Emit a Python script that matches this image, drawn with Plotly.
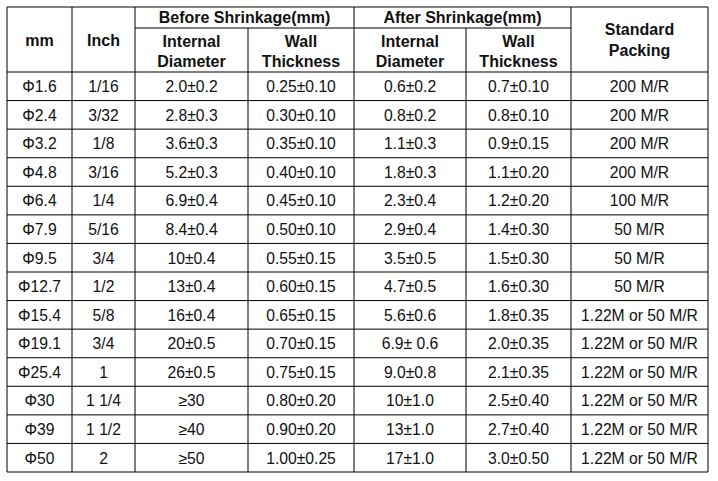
import plotly.graph_objects as go

# ---- data ----
mm = ["Φ1.6", "Φ2.4", "Φ3.2", "Φ4.8", "Φ6.4", "Φ7.9", "Φ9.5", "Φ12.7",
      "Φ15.4", "Φ19.1", "Φ25.4", "Φ30", "Φ39", "Φ50"]
inch = ["1/16", "3/32", "1/8", "3/16", "1/4", "5/16", "3/4", "1/2",
        "5/8", "3/4", "1", "1 1/4", "1 1/2", "2"]
before_id = ["2.0±0.2", "2.8±0.3", "3.6±0.3", "5.2±0.3", "6.9±0.4", "8.4±0.4", "10±0.4",
             "13±0.4", "16±0.4", "20±0.5", "26±0.5", "≥30", "≥40", "≥50"]
before_wall = ["0.25±0.10", "0.30±0.10", "0.35±0.10", "0.40±0.10", "0.45±0.10", "0.50±0.10",
               "0.55±0.15", "0.60±0.15", "0.65±0.15", "0.70±0.15", "0.75±0.15", "0.80±0.20",
               "0.90±0.20", "1.00±0.25"]
after_id = ["0.6±0.2", "0.8±0.2", "1.1±0.3", "1.8±0.3", "2.3±0.4", "2.9±0.4", "3.5±0.5",
            "4.7±0.5", "5.6±0.6", "6.9± 0.6", "9.0±0.8", "10±1.0", "13±1.0", "17±1.0"]
after_wall = ["0.7±0.10", "0.8±0.10", "0.9±0.15", "1.1±0.20", "1.2±0.20", "1.4±0.30",
              "1.5±0.30", "1.6±0.30", "1.8±0.35", "2.0±0.35", "2.1±0.35", "2.5±0.40",
              "2.7±0.40", "3.0±0.50"]
packing = ["200 M/R", "200 M/R", "200 M/R", "200 M/R", "100 M/R", "50 M/R", "50 M/R",
           "50 M/R", "1.22M or 50 M/R", "1.22M or 50 M/R", "1.22M or 50 M/R",
           "1.22M or 50 M/R", "1.22M or 50 M/R", "1.22M or 50 M/R"]

group_headers = ["Before Shrinkage(mm)", "After Shrinkage(mm)"]
sub_headers = ["Internal<br>Diameter", "Wall<br>Thickness", "Internal<br>Diameter", "Wall<br>Thickness"]
span_headers = ["mm", "Inch", "Standard<br>Packing"]

columns = [mm, inch, before_id, before_wall, after_id, after_wall, packing]

# ---- layout geometry (pixel space) ----
W, H = 718, 481
col_edges = [7, 72, 135, 248, 354, 466, 571, 708]
top, mid, head_bottom, bottom = 7, 28, 72, 472
n_rows = len(mm)
row_h = (bottom - head_bottom) / n_rows
row_edges = [head_bottom + i * row_h for i in range(n_rows + 1)]
centers = [(col_edges[i] + col_edges[i + 1]) / 2 for i in range(7)]
row_centers = [(row_edges[i] + row_edges[i + 1]) / 2 for i in range(n_rows)]

FONT = "Liberation Sans, Arial, sans-serif"
TXT = "#111111"
DATA_SIZE = 15.7
HEAD_SIZE = 16

fig = go.Figure()

# data cells
for ci, col in enumerate(columns):
    fig.add_trace(go.Scatter(
        x=[centers[ci]] * n_rows, y=[r + 2 for r in row_centers], mode="text", text=col,
        textposition="middle center",
        textfont=dict(family=FONT, size=DATA_SIZE, color=TXT),
        hoverinfo="skip", showlegend=False))

# spanning headers
span_x = [centers[0], centers[1], centers[6]]
fig.add_trace(go.Scatter(
    x=span_x, y=[(top + head_bottom) / 2 + 2] * 3, mode="text",
    text=[f"<b>{t}</b>" for t in span_headers], textposition="middle center",
    textfont=dict(family=FONT, size=HEAD_SIZE, color=TXT), hoverinfo="skip", showlegend=False))

# group headers
group_x = [(col_edges[2] + col_edges[4]) / 2, (col_edges[4] + col_edges[6]) / 2]
fig.add_trace(go.Scatter(
    x=group_x, y=[(top + mid) / 2 + 1] * 2, mode="text",
    text=[f"<b>{t}</b>" for t in group_headers], textposition="middle center",
    textfont=dict(family=FONT, size=HEAD_SIZE, color=TXT), hoverinfo="skip", showlegend=False))

# sub headers
fig.add_trace(go.Scatter(
    x=centers[2:6], y=[(mid + head_bottom) / 2 + 3] * 4, mode="text",
    text=[f"<b>{t}</b>" for t in sub_headers], textposition="middle center",
    textfont=dict(family=FONT, size=HEAD_SIZE, color=TXT), hoverinfo="skip", showlegend=False))

# grid lines
line = dict(color="black", width=1)
shapes = []
for i, x in enumerate(col_edges):
    y0 = mid if i in (3, 5) else top
    shapes.append(dict(type="line", x0=x, x1=x, y0=y0, y1=bottom, xref="x", yref="y", line=line))
shapes.append(dict(type="line", x0=col_edges[0], x1=col_edges[-1], y0=top, y1=top, xref="x", yref="y", line=line))
shapes.append(dict(type="line", x0=col_edges[2], x1=col_edges[6], y0=mid, y1=mid, xref="x", yref="y", line=line))
for y in row_edges:
    shapes.append(dict(type="line", x0=col_edges[0], x1=col_edges[-1], y0=y, y1=y, xref="x", yref="y", line=line))

fig.update_layout(
    width=W, height=H, margin=dict(l=0, r=0, t=0, b=0),
    paper_bgcolor="white", plot_bgcolor="white", shapes=shapes,
    xaxis=dict(range=[0, W], visible=False, fixedrange=True),
    yaxis=dict(range=[H, 0], visible=False, fixedrange=True),
)

fig.write_html(
    "out.html",
    config={"displayModeBar": False},
    post_script="document.body.style.margin='0';document.body.style.overflow='hidden';",
)
